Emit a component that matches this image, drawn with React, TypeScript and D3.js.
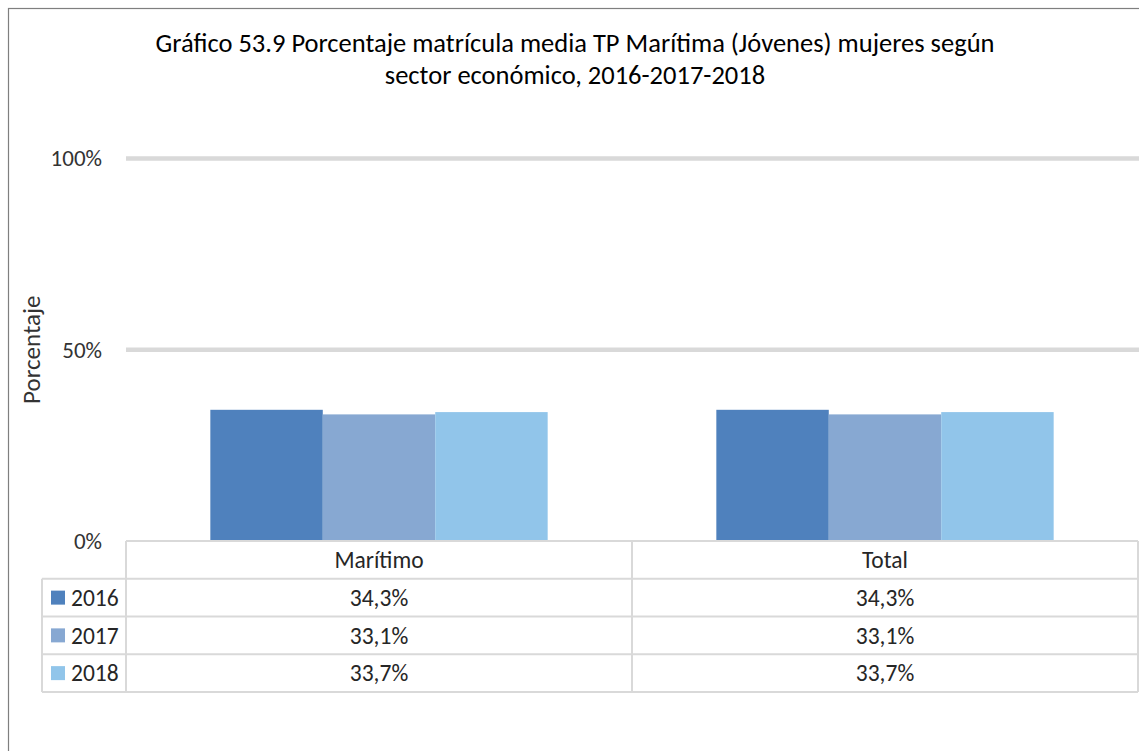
import { useEffect, useRef } from "react";
import * as d3 from "d3";

const categories = ["Marítimo", "Total"];
const years = ["2016", "2017", "2018"];
const values2016 = [34.3, 34.3];
const values2017 = [33.1, 33.1];
const values2018 = [33.7, 33.7];
const yTicks = [0, 50, 100];
const titleLines = [
  "Gráfico 53.9 Porcentaje matrícula media TP Marítima (Jóvenes) mujeres según",
  "sector económico, 2016-2017-2018",
];

const colors = ["#4f81bd", "#87a8d2", "#91c5ea"];
const FONT = "Carlito, Calibri, Lato, sans-serif";

export default function App() {
  const svgRef = useRef<SVGSVGElement>(null);

  useEffect(() => {
    if (!svgRef.current) return;
    const svg = d3.select(svgRef.current);
    svg.selectAll("*").remove();

    const width = 1139;
    const left = 126;
    const right = 1138;
    const top = 158.5;
    const bottom = 541;
    const tableBottom = 692;

    const series = [values2016, values2017, values2018];

    // outer chart frame (right and bottom edges fall outside the picture)
    svg
      .append("rect")
      .attr("x", 8.5)
      .attr("y", 8.5)
      .attr("width", 1200)
      .attr("height", 800)
      .attr("fill", "#fff")
      .attr("stroke", "#7f7f7f")
      .attr("stroke-width", 1.2);

    svg
      .append("g")
      .selectAll("text")
      .data(titleLines)
      .join("text")
      .attr("x", 575)
      .attr("y", (_, i) => 52 + i * 32)
      .attr("text-anchor", "middle")
      .attr("font-family", FONT)
      .attr("font-size", 26.5)
      .attr("fill", "#000")
      .text((d) => d);

    const x0 = d3.scaleBand().domain(categories).range([left, right]).padding(0);
    const bw = x0.bandwidth();
    const x1 = d3
      .scaleBand()
      .domain(years)
      .range([bw / 6, (bw * 5) / 6])
      .padding(0);
    const y = d3.scaleLinear().domain([0, 100]).range([bottom, top]);

    // gridlines
    svg
      .append("g")
      .selectAll("line")
      .data(yTicks.filter((t) => t > 0))
      .join("line")
      .attr("x1", left)
      .attr("x2", width)
      .attr("y1", (d) => y(d))
      .attr("y2", (d) => y(d))
      .attr("stroke", "#d9d9d9")
      .attr("stroke-width", 4.5);

    const yAxis = svg
      .append("g")
      .attr("transform", `translate(${left},0)`)
      .call(
        d3
          .axisLeft(y)
          .tickValues(yTicks)
          .tickSize(0)
          .tickPadding(24)
          .tickFormat((d) => `${d}%`),
      );
    yAxis.select(".domain").remove();
    yAxis
      .selectAll("text")
      .attr("font-family", FONT)
      .attr("font-size", 23)
      .attr("fill", "#333");

    svg
      .append("text")
      .attr("transform", `translate(40,${(top + bottom) / 2}) rotate(-90)`)
      .attr("text-anchor", "middle")
      .attr("font-family", FONT)
      .attr("font-size", 25)
      .attr("fill", "#333")
      .text("Porcentaje");

    // bars
    const groups = svg
      .append("g")
      .selectAll("g")
      .data(categories)
      .join("g")
      .attr("transform", (d) => `translate(${x0(d)},0)`);

    groups
      .selectAll("rect")
      .data((_, ci) => years.map((yr, si) => ({ yr, v: series[si][ci], si })))
      .join("rect")
      .attr("x", (d) => x1(d.yr)!)
      .attr("width", x1.bandwidth())
      .attr("y", (d) => y(d.v))
      .attr("height", (d) => y(0) - y(d.v))
      .attr("fill", (d) => colors[d.si]);

    // data table
    const rows = d3
      .scaleBand()
      .domain(["header", ...years])
      .range([bottom, tableBottom]);
    const rh = rows.bandwidth();
    const legendLeft = 42;
    const tbl = svg.append("g").attr("stroke", "#d9d9d9").attr("stroke-width", 2);

    tbl
      .append("line")
      .attr("x1", left)
      .attr("x2", right)
      .attr("y1", bottom)
      .attr("y2", bottom);
    tbl
      .selectAll("line.h")
      .data(years)
      .join("line")
      .attr("class", "h")
      .attr("x1", legendLeft)
      .attr("x2", right)
      .attr("y1", (d) => rows(d)!)
      .attr("y2", (d) => rows(d)!);
    tbl
      .append("line")
      .attr("x1", legendLeft)
      .attr("x2", right)
      .attr("y1", tableBottom)
      .attr("y2", tableBottom);
    tbl
      .append("line")
      .attr("x1", legendLeft)
      .attr("x2", legendLeft)
      .attr("y1", rows("2016")!)
      .attr("y2", tableBottom);
    tbl
      .selectAll("line.v")
      .data([left, ...categories.map((c) => x0(c)! + bw)])
      .join("line")
      .attr("class", "v")
      .attr("x1", (d) => d)
      .attr("x2", (d) => d)
      .attr("y1", bottom)
      .attr("y2", tableBottom);

    svg
      .append("g")
      .selectAll("text")
      .data(categories)
      .join("text")
      .attr("x", (d) => x0(d)! + bw / 2)
      .attr("y", bottom + rh / 2)
      .attr("dy", "0.35em")
      .attr("text-anchor", "middle")
      .attr("font-family", FONT)
      .attr("font-size", 23.5)
      .attr("fill", "#262626")
      .text((d) => d);

    const rowG = svg
      .append("g")
      .selectAll("g")
      .data(years)
      .join("g")
      .attr("transform", (d) => `translate(0,${rows(d)! + rh / 2})`);

    rowG
      .append("rect")
      .attr("x", 51)
      .attr("y", -7)
      .attr("width", 14)
      .attr("height", 14)
      .attr("fill", (_, i) => colors[i]);

    rowG
      .append("text")
      .attr("x", 71)
      .attr("dy", "0.35em")
      .attr("font-family", FONT)
      .attr("font-size", 23.5)
      .attr("fill", "#262626")
      .text((d) => d);

    rowG
      .selectAll("text.val")
      .data((_, si) => categories.map((c, ci) => ({ c, v: series[si][ci] })))
      .join("text")
      .attr("class", "val")
      .attr("x", (d) => x0(d.c)! + bw / 2)
      .attr("dy", "0.35em")
      .attr("text-anchor", "middle")
      .attr("font-family", FONT)
      .attr("font-size", 23.5)
      .attr("fill", "#262626")
      .text((d) => `${d.v.toFixed(1).replace(".", ",")}%`);
  }, []);

  return (
    <svg
      ref={svgRef}
      width={1139}
      height={751}
      style={{ position: "fixed", left: 0, top: 0, display: "block" }}
    />
  );
}
